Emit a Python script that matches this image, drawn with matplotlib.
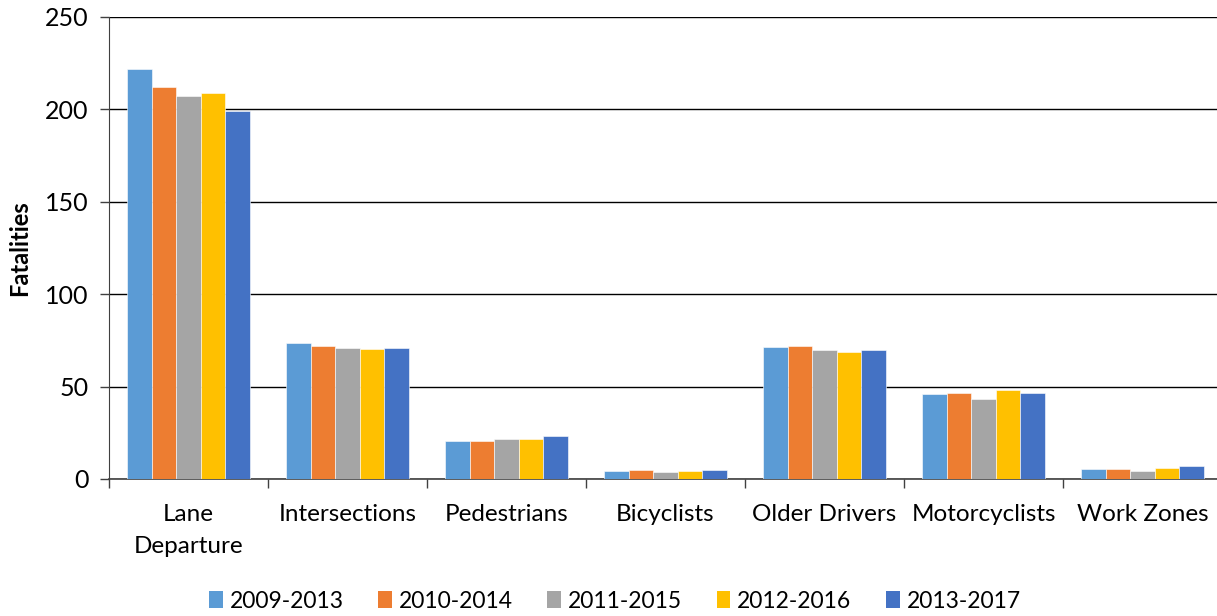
import matplotlib
matplotlib.use("Agg")
import matplotlib.pyplot as plt
import numpy as np
from matplotlib.patches import Patch

plt.rcParams['font.family'] = ['Lato', 'DejaVu Sans']

categories = ["Lane\nDeparture", "Intersections", "Pedestrians", "Bicyclists",
              "Older Drivers", "Motorcyclists", "Work Zones"]
series_names = ["2009-2013", "2010-2014", "2011-2015", "2012-2016", "2013-2017"]
s2009_2013 = [222, 73.6, 20.7, 4.2, 71.3, 45.8, 5.2]
s2010_2014 = [212, 72.0, 20.6, 4.7, 72.2, 46.5, 5.2]
s2011_2015 = [207, 70.7, 21.8, 3.8, 69.8, 43.3, 4.3]
s2012_2016 = [209, 70.2, 21.8, 4.5, 68.7, 48.0, 6.1]
s2013_2017 = [199, 70.7, 23.1, 4.9, 69.6, 46.4, 7.2]
series = [s2009_2013, s2010_2014, s2011_2015, s2012_2016, s2013_2017]
colors = ["#5B9BD5", "#ED7D31", "#A5A5A5", "#FFC000", "#4472C4"]
yticks = [0, 50, 100, 150, 200, 250]

W, H = 1217, 616
fig = plt.figure(figsize=(W / 100, H / 100), dpi=100)
left, right, bottom, top = 109 / W, 1222 / W, 1 - 479 / H, 1 - 17 / H
ax = fig.add_axes([left, bottom, right - left, top - bottom])

x = np.arange(len(categories))
bw = 0.154
for i, (vals, c, name) in enumerate(zip(series, colors, series_names)):
    ax.bar(x + (i - 2) * bw, vals, width=bw, color=c, label=name, zorder=3,
           edgecolor='white', linewidth=0.4)

ax.set_xlim(-0.5, len(categories) - 0.5)
ax.set_ylim(0, 250)
ax.set_yticks(yticks)
ax.set_yticklabels([str(t) for t in yticks], fontsize=18)
ax.yaxis.grid(True, color='#000000', linewidth=1.0, zorder=0)
ax.tick_params(axis='y', length=6.5, width=1, color='#404040', pad=8)

ax.set_xticks(x)
ax.set_xticklabels(categories, fontsize=17.5, linespacing=1.65)
ax.set_xticks(np.arange(len(categories) + 1) - 0.5, minor=True)
ax.tick_params(axis='x', which='major', length=0, pad=18)
ax.tick_params(axis='x', which='minor', length=6.5, width=1, color='#404040')

for s in ['top', 'right']:
    ax.spines[s].set_visible(False)
ax.spines['left'].set_color('#404040')
ax.spines['bottom'].set_color('#404040')
ax.spines['bottom'].set_linewidth(1.2)

ax.set_ylabel("Fatalities", fontsize=17, fontweight='bold', labelpad=10)

handles = [Patch(facecolor=c, label=n) for c, n in zip(colors, series_names)]
fig.legend(handles=handles, loc='center', bbox_to_anchor=(615 / W, 1 - 601 / H),
           ncol=5, frameon=False, fontsize=16.5, handlelength=0.6, handleheight=0.7,
           handletextpad=0.3, columnspacing=1.5)

fig.savefig("out.png", dpi=100)
